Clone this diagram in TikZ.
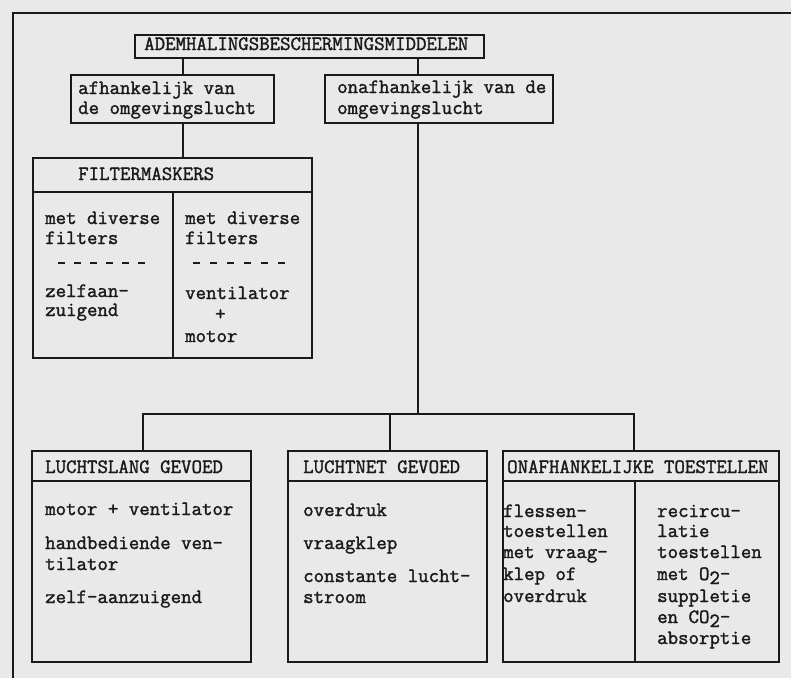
\documentclass[tikz,border=0pt]{standalone}
\usepackage{fontspec}
\newfontfamily\tw{Latin Modern Mono}[BoldFont={*}, BoldFeatures={FakeBold=1.6}]
\definecolor{paper}{HTML}{E9E9E9}
\definecolor{ink}{HTML}{1A1A1A}
\newcommand{\lowtwo}{\raisebox{-4pt}{2}}
\begin{document}
\begin{tikzpicture}[x=1pt,y=-1pt,
  box/.style={draw=ink, line width=1.8pt, inner sep=0pt, anchor=north west},
  txt/.style={inner sep=0pt, anchor=base west, font=\tw\bfseries\fontsize{20.3}{21}\selectfont, text=ink},
  conn/.style={draw=ink, line width=1.8pt},
  frame/.style={draw=ink, line width=2.6pt},
  dots/.style={draw=ink, line width=2pt, dash pattern=on 7pt off 9pt}
]
\useasboundingbox[fill=paper] (0,0) rectangle (791,678);
% outer frame
\draw[frame] (13,678) -- (13,13) -- (791,13);
% boxes
\node[box, minimum width=349pt, minimum height=23pt] (title) at (134,34) {};
\node[box, minimum width=203pt, minimum height=48pt] (afh) at (70,74) {};
\node[box, minimum width=228pt, minimum height=48pt] (onafh) at (324,74) {};
\node[box, minimum width=279pt, minimum height=200pt] (filt) at (32,157) {};
\node[box, minimum width=219pt, minimum height=211pt] (ls) at (31,450) {};
\node[box, minimum width=199pt, minimum height=211pt] (ln) at (287,450) {};
\node[box, minimum width=276pt, minimum height=211pt] (ot) at (502,450) {};
% dividers
\draw[conn] ([yshift=-35pt]filt.north west) -- ([yshift=-35pt]filt.north east);
\draw[conn] ([xshift=141pt,yshift=-35pt]filt.north west) -- ([xshift=141pt]filt.south west);
\draw[conn] ([yshift=-31pt]ls.north west) -- ([yshift=-31pt]ls.north east);
\draw[conn] ([yshift=-31pt]ln.north west) -- ([yshift=-31pt]ln.north east);
\draw[conn] ([yshift=-31pt]ot.north west) -- ([yshift=-31pt]ot.north east);
\draw[conn] ([xshift=133pt,yshift=-31pt]ot.north west) -- ([xshift=133pt]ot.south west);
% connectors
\coordinate (jl) at (143,414);
\coordinate (jm) at (390,414);
\coordinate (jo) at (418,414);
\coordinate (jr) at (634,414);
\draw[conn] (title.south -| 183,0) -- (afh.north -| 183,0);
\draw[conn] (title.south -| jo) -- (onafh.north -| jo);
\draw[conn] (afh.south -| 183,0) -- (filt.north -| 183,0);
\draw[conn] (onafh.south -| jo) -- (jo);
\draw[conn] (ls.north -| jl) -- (jl) -- (jr) -- (ot.north -| jr);
\draw[conn] (ln.north -| jm) -- (jm);
% dashed separators
\draw[dots] (58,263) -- (147,263);
\draw[dots, dash pattern=on 7pt off 10pt] (193,263) -- (293,263);
% texts
\node[txt] (ttitle) at (144,50) {ADEMHALINGSBESCHERMINGSMIDDELEN};
\node[txt] (afh1) at (78,94) {afhankelijk van};
\node[txt] (afh2) at (78,114) {de omgevingslucht};
\node[txt] (on1) at (337,93) {onafhankelijk van de};
\node[txt] (on2) at (337,114) {omgevingslucht};
\node[txt] (fm) at (78,180) {FILTERMASKERS};
\node[txt] (fl1) at (45,224) {met diverse};
\node[txt] (fl2) at (45,244) {filters};
\node[txt] (fl3) at (45,297) {zelfaan-};
\node[txt] (fl4) at (45,316) {zuigend};
\node[txt] (fr1) at (185,224) {met diverse};
\node[txt] (fr2) at (185,244) {filters};
\node[txt] (fr3) at (185,299) {ventilator};
\node[txt] (fr4) at (215,320) {+};
\node[txt] (fr5) at (185,342) {motor};
\node[txt] (lsh) at (45,473) {LUCHTSLANG GEVOED};
\node[txt] (ls1) at (45,515) {motor + ventilator};
\node[txt] (ls2) at (45,549) {handbediende ven-};
\node[txt] (ls3) at (45,570) {tilator};
\node[txt] (ls4) at (45,603) {zelf-aanzuigend};
\node[txt] (lnh) at (303,473) {LUCHTNET GEVOED};
\node[txt] (ln1) at (303,516) {overdruk};
\node[txt] (ln2) at (303,549) {vraagklep};
\node[txt] (ln3) at (303,582) {constante lucht-};
\node[txt] (ln4) at (303,603) {stroom};
\node[txt] (oth) at (507,473) {ONAFHANKELIJKE TOESTELLEN};
\node[txt] (ol1) at (503,517) {flessen-};
\node[txt] (ol2) at (503,537) {toestellen};
\node[txt] (ol3) at (503,558) {met vraag-};
\node[txt] (ol4) at (503,580) {klep of};
\node[txt] (ol5) at (503,602) {overdruk};
\node[txt] (or1) at (657,517) {recircu-};
\node[txt] (or2) at (657,537) {latie};
\node[txt] (or3) at (657,558) {toestellen};
\node[txt] (or4) at (657,580) {met O\lowtwo-};
\node[txt] (or5) at (657,602) {suppletie};
\node[txt] (or6) at (657,623) {en CO\lowtwo-};
\node[txt] (or7) at (657,644) {absorptie};
\end{tikzpicture}
\end{document}
